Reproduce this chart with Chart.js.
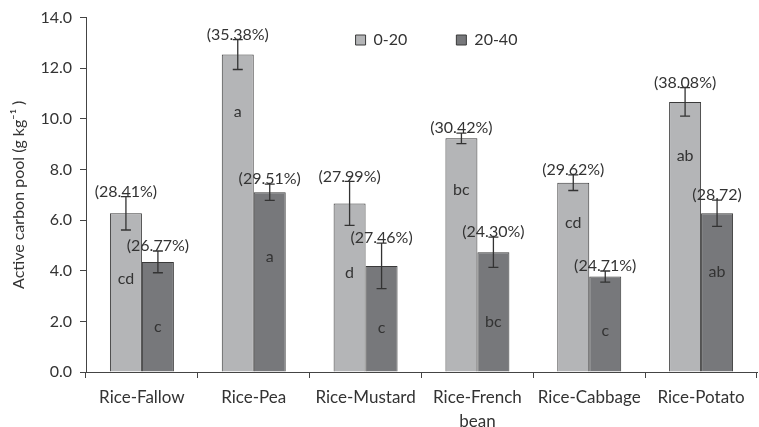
<!DOCTYPE html>
<html>
<head>
<meta charset="utf-8">
<script src="https://cdn.jsdelivr.net/npm/chart.js@4/dist/chart.umd.min.js"></script>
<style>
  html, body { margin: 0; padding: 0; background: #fff; }
  canvas { display: block; }
</style>
</head>
<body>
<canvas id="c" width="759" height="427"></canvas>
<script>
// Cropping systems and soil depth layers (cm)
const systems = ['Rice-Fallow', 'Rice-Pea', 'Rice-Mustard', ['Rice-French', 'bean'], 'Rice-Cabbage', 'Rice-Potato'];
const depthLabels = ['0-20', '20-40'];

// Active carbon pool (g kg-1) and standard errors
const carbon0to20 = [6.27, 12.54, 6.66, 9.23, 7.48, 10.67];
const carbon20to40 = [4.35, 7.10, 4.19, 4.73, 3.77, 6.27];
const err0to20 = [0.66, 0.59, 0.87, 0.21, 0.31, 0.56];
const err20to40 = [0.43, 0.32, 0.90, 0.60, 0.22, 0.52];

// Share of total carbon, printed above each bar
const share0to20 = ['(28.41%)', '(35.38%)', '(27.99%)', '(30.42%)', '(29.62%)', '(38.08%)'];
const share20to40 = ['(26.77%)', '(29.51%)', '(27.46%)', '(24.30%)', '(24.71%)', '(28.72)'];

// Significance groups
const letters0to20 = ['cd', 'a', 'd', 'bc', 'cd', 'ab'];
const letters20to40 = ['c', 'a', 'c', 'bc', 'c', 'ab'];

const yTicks = [0, 2, 4, 6, 8, 10, 12, 14];

const FONT = 'Lato, "Open Sans", sans-serif';
const INK = '#333333';

// Error bars, share labels and group letters
const annotate = {
  id: 'annotate',
  afterDatasetsDraw(chart, args, opts) {
    const ctx = chart.ctx;
    const y = chart.scales.y;
    chart.data.datasets.forEach((ds, di) => {
      const meta = chart.getDatasetMeta(di);
      meta.data.forEach((bar, j) => {
        const v = ds.data[j];
        const e = ds.errors[j];
        const x = bar.x;
        const yTop = y.getPixelForValue(v + e);
        const yBot = y.getPixelForValue(v - e);
        ctx.save();
        ctx.fillStyle = INK;
        ctx.font = '16px ' + FONT;
        ctx.textAlign = 'center';
        ctx.textBaseline = 'middle';
        ctx.fillText(ds.shares[j], x, yTop - opts.lift);
        ctx.fillText(ds.letters[j], x, y.getPixelForValue(v * opts.letterLevel[di][j]));
        ctx.strokeStyle = INK;
        ctx.lineWidth = 1.3;
        ctx.beginPath();
        ctx.moveTo(x, yTop); ctx.lineTo(x, yBot);
        ctx.moveTo(x - opts.cap, yTop); ctx.lineTo(x + opts.cap, yTop);
        ctx.moveTo(x - opts.cap, yBot); ctx.lineTo(x + opts.cap, yBot);
        ctx.stroke();
        ctx.restore();
      });
    });
  }
};

// The legend row sits inside the plot: it takes no layout height,
// and is then placed near the top of the plot area.
const legendInPlot = {
  id: 'legendInPlot',
  beforeLayout(chart) {
    const lg = chart.legend;
    if (lg && !lg._noHeight) {
      const fit = lg.fit;
      lg.fit = function () { fit.call(this); this.height = 0; };
      lg._noHeight = true;
    }
  },
  afterLayout(chart, args, opts) {
    const lg = chart.legend;
    if (!lg) return;
    lg.left += opts.dx; lg.right += opts.dx;
    lg.top = opts.top; lg.bottom = opts.top + 80;
  }
};

new Chart(document.getElementById('c'), {
  type: 'bar',
  data: {
    labels: systems,
    datasets: [
      {
        label: depthLabels[0],
        data: carbon0to20,
        errors: err0to20,
        shares: share0to20,
        letters: letters0to20,
        backgroundColor: '#b4b5b7',
        borderColor: '#3a3a3a',
        borderWidth: 1
      },
      {
        label: depthLabels[1],
        data: carbon20to40,
        errors: err20to40,
        shares: share20to40,
        letters: letters20to40,
        backgroundColor: '#77787b',
        borderColor: '#3a3a3a',
        borderWidth: 1
      }
    ]
  },
  options: {
    responsive: false,
    animation: false,
    devicePixelRatio: 1,
    categoryPercentage: 0.572,
    barPercentage: 1.0,
    layout: { padding: { top: 17, right: 2, left: 0, bottom: 0 } },
    scales: {
      x: {
        grid: { offset: true, drawOnChartArea: false, drawTicks: true, tickLength: 6, color: '#444' },
        border: { display: true, color: '#444', width: 1 },
        ticks: {
          color: INK,
          font: { family: FONT, size: 17, lineHeight: 1.38 },
          padding: 8,
          maxRotation: 0,
          autoSkip: false
        },
        afterFit(s) { s.height = 55; }
      },
      y: {
        min: 0,
        max: 14,
        grid: { drawOnChartArea: false, drawTicks: true, tickLength: 6, color: '#444' },
        border: { display: true, color: '#444', width: 1 },
        afterBuildTicks(s) { s.ticks = yTicks.map(v => ({ value: v })); },
        ticks: {
          color: INK,
          font: { family: FONT, size: 16 },
          padding: 8,
          callback: v => Number(v).toFixed(1)
        },
        title: {
          display: true,
          text: 'Active carbon pool (g kg\u207B\u00B9 )',
          color: INK,
          font: { family: FONT, size: 16 },
          padding: { top: 9, bottom: 0 }
        },
        afterFit(s) { s.width = 86; }
      }
    },
    plugins: {
      legend: {
        position: 'top',
        align: 'center',
        labels: {
          boxWidth: 10,
          boxHeight: 10,
          padding: 49,
          color: INK,
          font: { family: FONT, size: 16 }
        }
      },
      tooltip: { enabled: false },
      legendInPlot: { dx: 58, top: -17 },
      annotate: {
        lift: 5,
        cap: 5,
        letterLevel: [
          [0.59, 0.82, 0.59, 0.78, 0.79, 0.80],
          [0.41, 0.64, 0.42, 0.42, 0.43, 0.63]
        ]
      }
    }
  },
  plugins: [annotate, legendInPlot]
});
</script>
</body>
</html>
